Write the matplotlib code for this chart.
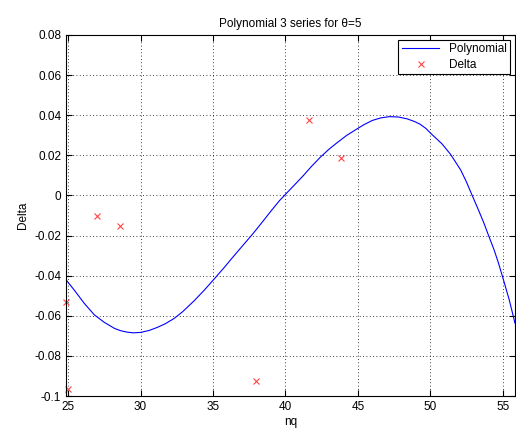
import matplotlib
matplotlib.use('Agg')
import matplotlib.pyplot as plt

plt.rcParams['font.family'] = ['Liberation Sans', 'DejaVu Sans']

# Data
# polynomial curve
poly_nq = [24.9, 25.4, 26.1, 26.8, 27.5, 28.2, 28.6, 29.1, 29.5, 30.0, 30.6,
           31.15, 31.7, 32.3, 32.9, 33.7, 34.4, 35.1, 35.8, 36.4, 37.1, 37.8,
           38.4, 39.0, 39.6, 40.1, 40.7, 41.25, 41.8, 42.4, 43.0, 43.55,
           44.2, 44.9, 45.4, 46.0, 46.6, 47.2, 47.8, 48.4, 48.9, 49.3, 49.7,
           50.1, 50.8, 51.4, 52.1, 52.5, 52.9, 53.3, 53.7, 54.0, 54.4, 54.7,
           55.05, 55.45, 55.85]
poly_delta = [-0.0425, -0.047, -0.0537, -0.0595, -0.0633, -0.0663, -0.0674,
              -0.0682, -0.0685, -0.0683, -0.0673, -0.0658, -0.0640, -0.0614,
              -0.0580, -0.0525, -0.0472, -0.0415, -0.0357, -0.0305, -0.0246,
              -0.0187, -0.0133, -0.0078, -0.0025, 0.0013, 0.0058, 0.0100,
              0.0145, 0.0190, 0.0230, 0.0262, 0.0298, 0.0330, 0.0352, 0.0374,
              0.0387, 0.0393, 0.0391, 0.0382, 0.0369, 0.0355, 0.0334, 0.0305,
              0.0258, 0.0205, 0.0127, 0.0067, -0.0001, -0.0068, -0.0137,
              -0.0195, -0.0270, -0.0335, -0.0420, -0.0520, -0.0637]

# measured deltas
pts_nq = [24.85, 25.0, 27.0, 28.6, 38.0, 41.6, 43.85, 56.1]
pts_delta = [-0.053, -0.0967, -0.0103, -0.015, -0.0925, 0.0375, 0.0185, -0.084]

xticks = [25, 30, 35, 40, 45, 50, 55]
yticks = [-0.1, -0.08, -0.06, -0.04, -0.02, 0, 0.02, 0.04, 0.06, 0.08]
ytick_labels = ['-0.1', '-0.08', '-0.06', '-0.04', '-0.02', '0',
                '0.02', '0.04', '0.06', '0.08']

fig = plt.figure(figsize=(5.16, 4.36), dpi=100)
ax = fig.add_axes([66 / 516, 1 - 396 / 436, 449 / 516, 361 / 436])

ax.plot(poly_nq, poly_delta, color='#0000ff', linewidth=0.8, label='Polynomial')
ax.plot(pts_nq, pts_delta, linestyle='none', marker='x', color='#ff4444',
        markersize=4.5, markeredgewidth=0.8, label='Delta', clip_on=False)

ax.set_xlim(24.85, 55.85)
ax.set_ylim(-0.1, 0.08)
ax.set_xticks(xticks)
ax.set_yticks(yticks)
ax.set_yticklabels(ytick_labels)

ax.tick_params(direction='in', top=True, right=True, labelsize=8.5,
               length=4, width=0.8)
for s in ax.spines.values():
    s.set_linewidth(0.8)

ax.grid(True, color='black', linestyle=(0, (1, 3)), linewidth=0.6)

ax.set_title('Polynomial 3 series for \u03b8=5', fontsize=8.5, pad=6)
ax.set_xlabel('nq', fontsize=8.5, labelpad=2)
ax.set_ylabel('Delta', fontsize=8.5, labelpad=4)

leg = ax.legend(loc='upper right', fontsize=8.5, fancybox=False,
                framealpha=1, edgecolor='black', borderaxespad=0.4,
                handlelength=3.2, borderpad=0.3, labelspacing=0.3)
leg.get_frame().set_linewidth(0.8)

fig.savefig('out.png', dpi=100)
